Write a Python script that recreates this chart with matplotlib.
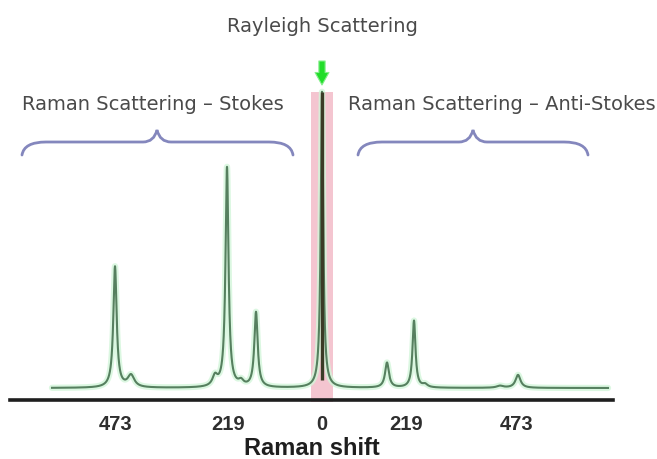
import numpy as np
import matplotlib
matplotlib.use("Agg")
import matplotlib.pyplot as plt
from matplotlib.path import Path
from matplotlib.patches import PathPatch

# ---------------- data ----------------
# schematic peak positions (axis units, 0 = Rayleigh line), intensities and half-widths
peak_pos = [-207, -191, -107, -95, -81, -66, 0, 65, 92, 103, 178, 196]
peak_height = [121, 12, 10, 220, 5, 75, 296, 25, 67, 3, 2, 13]
peak_width = [2.0, 4.0, 3.0, 1.8, 3.0, 2.0, 1.5, 2.3, 1.8, 3.0, 4.0, 3.0]
spectrum_range = (-270, 286)

tick_positions = [-206, -94, 0, 84, 195]
tick_labels = ["473", "219", "0", "219", "473"]

title_rayleigh = "Rayleigh Scattering"
label_stokes = "Raman Scattering \u2013 Stokes"
label_anti = "Raman Scattering \u2013 Anti-Stokes"
xlabel = "Raman shift"

# ---------------- figure ----------------
W, H = 657, 459
fig = plt.figure(figsize=(W / 100, H / 100), dpi=100)
fig.patch.set_facecolor("white")
ax = fig.add_axes([10 / W, (H - 400) / H, 603 / W, 400 / H])
ax.set_xlim(-312, 291)
ax.set_ylim(-12, 388)
ax.set_facecolor("none")
for s in ["top", "right", "left"]:
    ax.spines[s].set_visible(False)
ax.spines["bottom"].set_linewidth(2.6)
ax.spines["bottom"].set_color("#1e1e1e")
ax.set_yticks([])

# spectrum
x = np.linspace(spectrum_range[0], spectrum_range[1], 4000)
y = np.zeros_like(x)
for p, h, w in zip(peak_pos, peak_height, peak_width):
    y += h * w**2 / ((x - p) ** 2 + w**2)

# Rayleigh band
ax.fill_between([-11, 11], [-14, -14], [296, 296], color="#f3bfcb", alpha=0.9,
                lw=0, zorder=1, clip_on=False)

ax.plot(x, y, color="#d3f6da", lw=4.5, alpha=0.8, zorder=2, solid_capstyle="round")
ax.plot(x, y, color="#56805f", lw=1.5, zorder=3)
ax.vlines(peak_pos[6], 8, peak_height[6], color="#3b3b26", lw=2.4, zorder=4)

# green arrow
ax.annotate("", xy=(0, 303), xytext=(0, 327),
            arrowprops=dict(facecolor="#22dd2a", edgecolor="#86ef8c", lw=0.8,
                            width=4.5, headwidth=10, headlength=9, shrink=0),
            annotation_clip=False)

# ticks
ax.set_xticks(tick_positions)
ax.set_xticklabels(tick_labels, fontsize=14.5, fontweight="bold", color="#2e2e2e",
                   family=["Liberation Sans", "DejaVu Sans"])
ax.tick_params(axis="x", length=0, pad=11)
ax.set_xlabel(xlabel, fontsize=17, fontweight="bold", color="#1e1e1e",
              family=["Liberation Sans", "DejaVu Sans"], labelpad=2)

# annotation texts
tfont = dict(family=["DejaVu Sans"], fontsize=14, color="#4a4a4a")
ax.text(0, 361, title_rayleigh, ha="center", va="center", **tfont)
ax.text(-300, 283, label_stokes, ha="left", va="center", **tfont)
ax.text(26, 283, label_anti, ha="left", va="center", **tfont)


def brace(x0, x1, xc, y_end, y_flat, y_cusp):
    verts = [(x0, y_end), (x0 + 2, y_flat), (x0 + 24, y_flat),
             (xc - 14, y_flat),
             (xc - 3, y_flat), (xc, y_cusp),
             (xc + 3, y_flat), (xc + 14, y_flat),
             (x1 - 24, y_flat),
             (x1 - 2, y_flat), (x1, y_end)]
    codes = [Path.MOVETO, Path.CURVE3, Path.CURVE3, Path.LINETO,
             Path.CURVE3, Path.CURVE3, Path.CURVE3, Path.CURVE3,
             Path.LINETO, Path.CURVE3, Path.CURVE3]
    return PathPatch(Path(verts, codes), fill=False, edgecolor="#8487bd", lw=2,
                     clip_on=False, capstyle="round")


ax.add_patch(brace(-300, -29, -165, 233, 246, 258))
ax.add_patch(brace(36, 266, 151, 233, 246, 258))

fig.savefig("out.png", dpi=100, facecolor="white")
